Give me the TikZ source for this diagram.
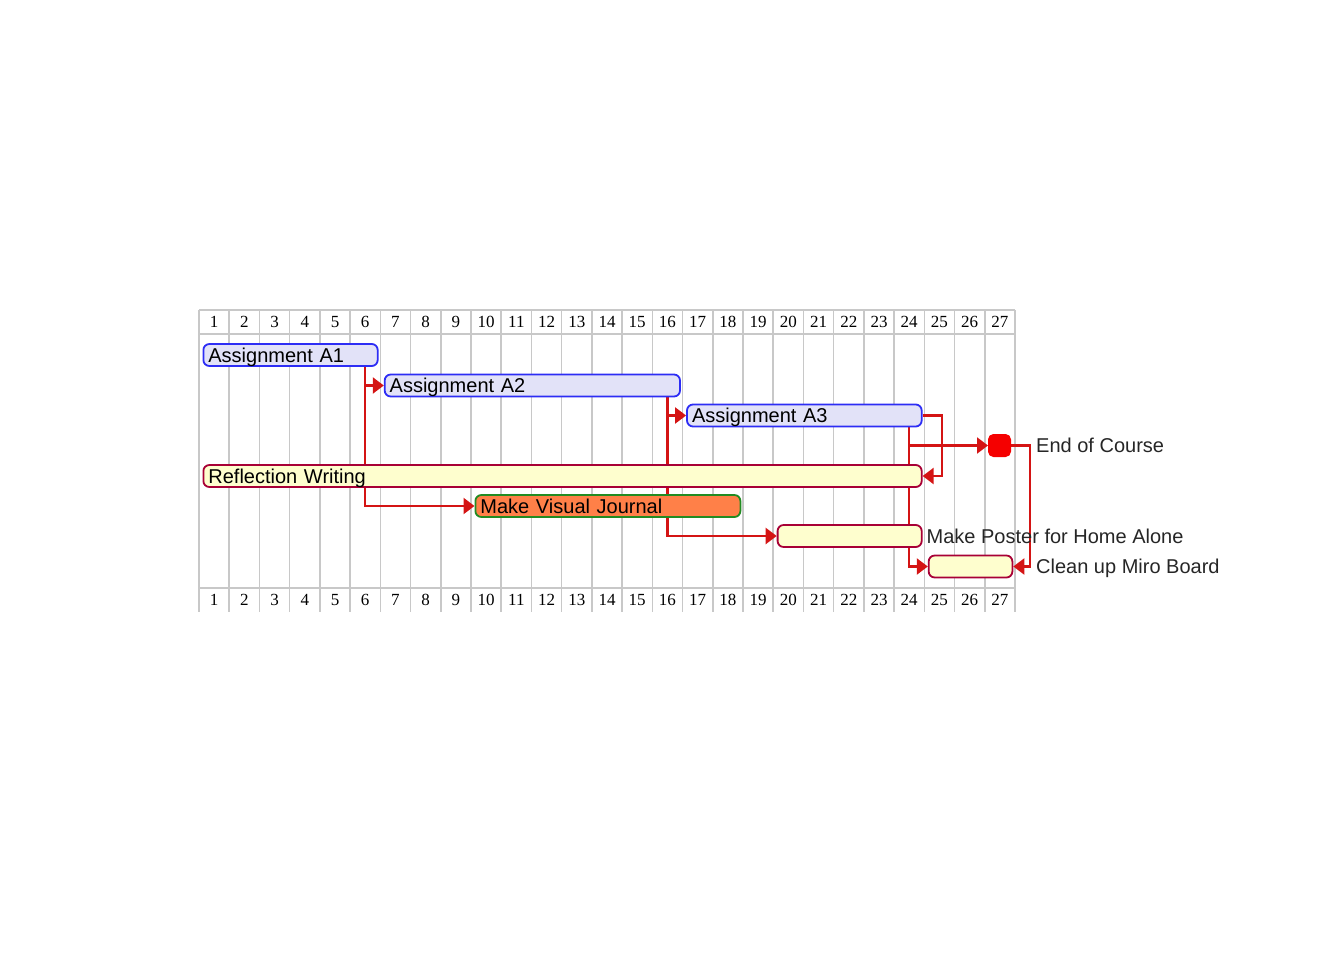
\documentclass[tikz,border=0pt]{standalone}
\usepackage{fontspec}
\setmainfont{Liberation Sans}
\newfontfamily\numfont{Liberation Serif}
\usetikzlibrary{arrows.meta,calc}
\pgfdeclarelayer{gridl}
\pgfdeclarelayer{conn}
\pgfsetlayers{gridl,conn,main}
\definecolor{gridc}{RGB}{200,200,200}
\definecolor{depc}{RGB}{212,20,20}
\definecolor{abord}{RGB}{45,45,245}
\definecolor{afill}{RGB}{226,226,248}
\definecolor{tbord}{RGB}{168,0,54}
\definecolor{tfill}{RGB}{254,254,206}
\definecolor{jfill}{RGB}{255,128,72}
\definecolor{jbord}{RGB}{34,139,34}
\definecolor{msc}{RGB}{245,0,0}
\begin{document}
\begin{tikzpicture}[x=1pt,y=-1pt,
  gridline/.style={draw=gridc,line width=1.6pt},
  num/.style={font=\numfont\fontsize{17}{18}\selectfont,inner sep=0pt},
  bar/.style={rounded corners=6pt,line width=1.8pt,minimum height=22pt,
    inner ysep=0pt,inner xsep=5pt,align=left,anchor=west,
    text height=17pt,text depth=3pt,
    font=\fontsize{20}{22}\selectfont},
  abar/.style={bar,draw=abord,fill=afill},
  tbar/.style={bar,draw=tbord,fill=tfill},
  jbar/.style={bar,draw=jbord,fill=jfill},
  mstone/.style={draw=msc,fill=msc,rounded corners=5pt,minimum width=22pt,
    minimum height=22pt,inner sep=0pt,line width=1pt},
  lbl/.style={font=\fontsize{20}{22}\selectfont,anchor=west,inner sep=0pt,
    text height=17pt,text depth=3pt,text=black!85},
  dep/.style={draw=depc,line width=2.2pt,-{Triangle[length=11pt,width=16pt]}}
]
\useasboundingbox (0,0) rectangle (1344,960);
% grid
\begin{pgfonlayer}{gridl}
\foreach \k in {0,...,27}
  \draw[gridline] ({199+30.222*\k},310) -- ({199+30.222*\k},612);
\draw[gridline] (199,310) -- (1015,310);
\draw[gridline] (199,334) -- (1015,334);
\draw[gridline] (199,588) -- (1015,588);
\end{pgfonlayer}
\foreach \k in {1,...,27} {
  \node[num] (h\k) at ({199+30.222*(\k-0.5)},322) {\k};
  \node[num] (f\k) at ({199+30.222*(\k-0.5)},600) {\k};
}
% column centres used by connectors
\coordinate (c6) at ({199+30.222*5.5},0);
\coordinate (c16) at ({199+30.222*15.5},0);
\coordinate (c24) at ({199+30.222*23.5},0);
% tasks
\path
  node[abar,text width=164.3pt,minimum width=174.3pt] (a1) at (202.5,355) {Assignment A1}
  node[abar,text width=285.3pt,minimum width=295.3pt] (a2) at (383.8,385.5) {Assignment A2}
  node[abar,text width=224.7pt,minimum width=234.7pt] (a3) at (686.1,415.5) {Assignment A3}
  node[mstone] (eoc) at (999.5,445.5) {}
  node[tbar,text width=708.3pt,minimum width=718.3pt] (rw) at (202.5,476) {Reflection Writing}
  node[jbar,text width=255pt,minimum width=265pt] (vj) at (474.5,506) {Make Visual Journal}
  node[tbar,text width=134.1pt,minimum width=144.1pt] (mp) at (776.7,536) {}
  node[tbar,text width=73.7pt,minimum width=83.7pt] (cm) at (927.8,566.5) {};
% labels beside tasks
\node[lbl] (leoc) at (1036,445.5) {End of Course};
\node[lbl] (lmp) at (926.5,536) {Make Poster for Home Alone};
\node[lbl] (lcm) at (1036,566.5) {Clean up Miro Board};
% connectors (beneath the bars)
\begin{pgfonlayer}{conn}
\draw[dep] (a1.south -| c6) |- (a2.west);
\draw[dep] (a1.south -| c6) |- (vj.west);
\draw[dep] (a2.south -| c16) |- (a3.west);
\draw[dep] (a2.south -| c16) |- (mp.west);
\draw[dep] (a3.south -| c24) |- (eoc.west);
\draw[dep] (a3.south -| c24) |- (cm.west);
\draw[dep] (a3.east) -- ++(19,0) |- (rw.east);
\draw[dep] (eoc.east) -- ++(19,0) |- (cm.east);
\end{pgfonlayer}
\end{tikzpicture}
\end{document}
